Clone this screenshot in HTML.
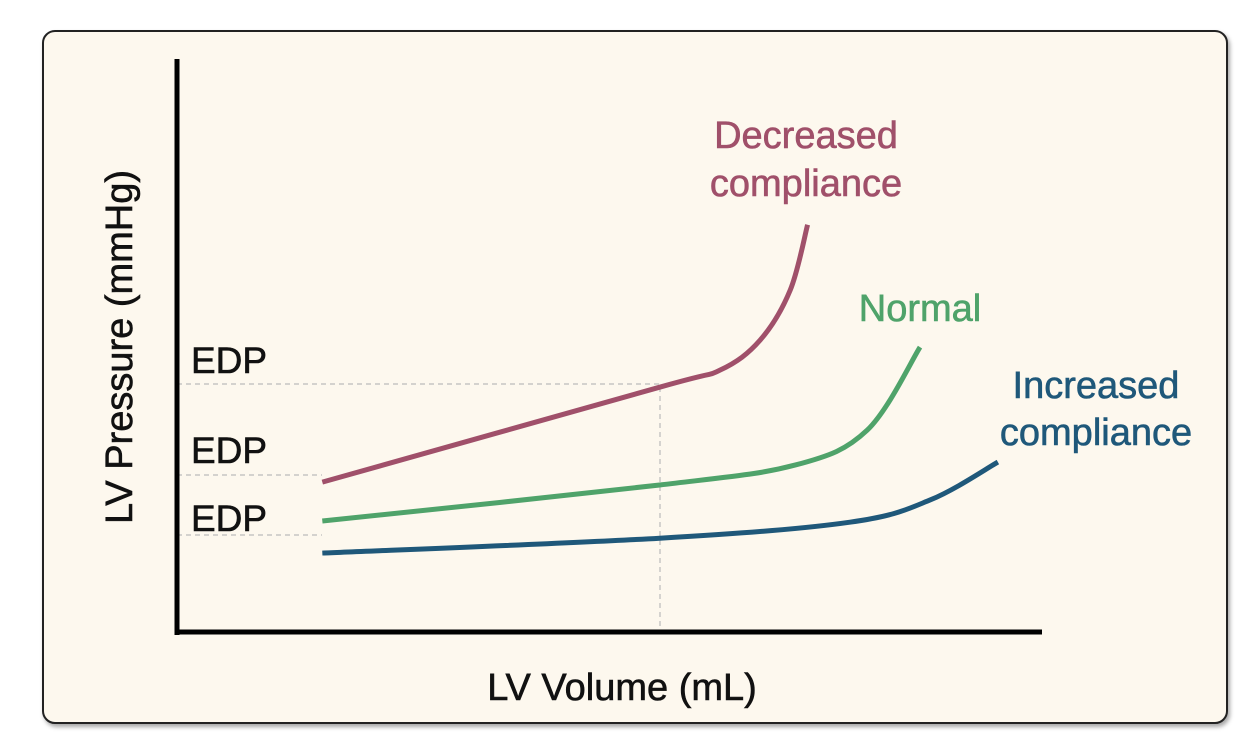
<!DOCTYPE html>
<html><head><meta charset="utf-8"><style>
html,body{margin:0;padding:0;background:#fff;}
body{width:1249px;height:744px;position:relative;overflow:hidden;font-family:"Liberation Sans",sans-serif;}
#frame{position:absolute;left:42px;top:30px;width:1186px;height:694px;border:2.5px solid #222;border-radius:13px;background:#fdf8ee;box-shadow:2px 3px 4px rgba(0,0,0,0.35);box-sizing:border-box;}
svg{position:absolute;left:0;top:0;}
text{stroke-width:0.6px;}
</style></head><body>
<div id="frame"></div>
<svg id="chart" width="1249" height="744" font-family="Liberation Sans, sans-serif">
  <line x1="660" y1="387" x2="660" y2="632" stroke="#bbb" stroke-width="1.2" stroke-dasharray="5,4"/>
  <line x1="177" y1="384" x2="660" y2="384" stroke="#bbb" stroke-width="1.2" stroke-dasharray="5,4"/>
  <line x1="177" y1="475" x2="322" y2="475" stroke="#bbb" stroke-width="1.2" stroke-dasharray="5,4"/>
  <line x1="177" y1="535" x2="322" y2="535" stroke="#bbb" stroke-width="1.2" stroke-dasharray="5,4"/>
  <g id="curves"></g>
  <line x1="177" y1="59" x2="177" y2="635" stroke="#000" stroke-width="5"/>
  <line x1="175" y1="632" x2="1042" y2="632" stroke="#000" stroke-width="5"/>
  <text x="191" y="373" font-size="37" fill="#111" stroke="#111">EDP</text>
  <text x="191" y="463" font-size="37" fill="#111" stroke="#111">EDP</text>
  <text x="191" y="531" font-size="37" fill="#111" stroke="#111">EDP</text>
  <text x="806" y="148" font-size="38" fill="#a0506a" stroke="#a0506a" text-anchor="middle"><tspan x="806">Decreased</tspan><tspan x="806" dy="48">compliance</tspan></text>
  <text x="920" y="321" font-size="38" fill="#4fa36a" stroke="#4fa36a" text-anchor="middle">Normal</text>
  <text x="1096" y="398" font-size="38" fill="#1f587a" stroke="#1f587a" text-anchor="middle"><tspan x="1096">Increased</tspan><tspan x="1096" dy="47">compliance</tspan></text>
  <text x="0" y="0" font-size="38" fill="#111" stroke="#111" text-anchor="middle" transform="translate(132,347) rotate(-90)">LV Pressure (mmHg)</text>
  <text x="622" y="700" font-size="38" fill="#111" stroke="#111" text-anchor="middle">LV Volume (mL)</text>
</svg>
<script>
const decreasedX = [16.8, 55.8, 62.8, 67.4, 70.9, 72.9];
const decreasedY = [26.2, 42.8, 45.8, 51.0, 59.8, 71.2];
const normalX = [16.8, 55.8, 71.5, 79.8, 85.9];
const normalY = [19.4, 25.7, 29.2, 35.3, 49.8];
const increasedX = [16.8, 55.8, 77.8, 87.1, 94.9];
const increasedY = [13.8, 16.4, 19.2, 23.1, 29.7];
const seriesNames = ["decreased-compliance-curve", "normal-curve", "increased-compliance-curve"];
const seriesColors = ["#a0506a", "#4fa36a", "#1f587a"];

function sx(v){ return 177 + v / 100 * 865; }
function sy(v){ return 632 - v / 100 * 572; }
function pathFor(xs, ys){
  const p = xs.map((x,i)=>[sx(x), sy(ys[i])]);
  let d = "M" + p[0][0] + "," + p[0][1];
  for (let i=0;i<p.length-1;i++){
    const p0 = p[i-1]||p[i], p1=p[i], p2=p[i+1], p3=p[i+2]||p2;
    const c1x=p1[0]+(p2[0]-p0[0])/6, c1y=p1[1]+(p2[1]-p0[1])/6;
    const c2x=p2[0]-(p3[0]-p1[0])/6, c2y=p2[1]-(p3[1]-p1[1])/6;
    d += " C"+c1x+","+c1y+" "+c2x+","+c2y+" "+p2[0]+","+p2[1];
  }
  return d;
}
const g = document.getElementById("curves");
const all = [[decreasedX, decreasedY],[normalX, normalY],[increasedX, increasedY]];
all.forEach((s, i)=>{
  const el = document.createElementNS("http://www.w3.org/2000/svg","path");
  el.setAttribute("d", pathFor(s[0], s[1]));
  el.setAttribute("fill","none");
  el.setAttribute("stroke", seriesColors[i]);
  el.setAttribute("stroke-width","5");
  el.setAttribute("stroke-linecap","butt");
  
  
  g.appendChild(el);
});
</script>
</body></html>
